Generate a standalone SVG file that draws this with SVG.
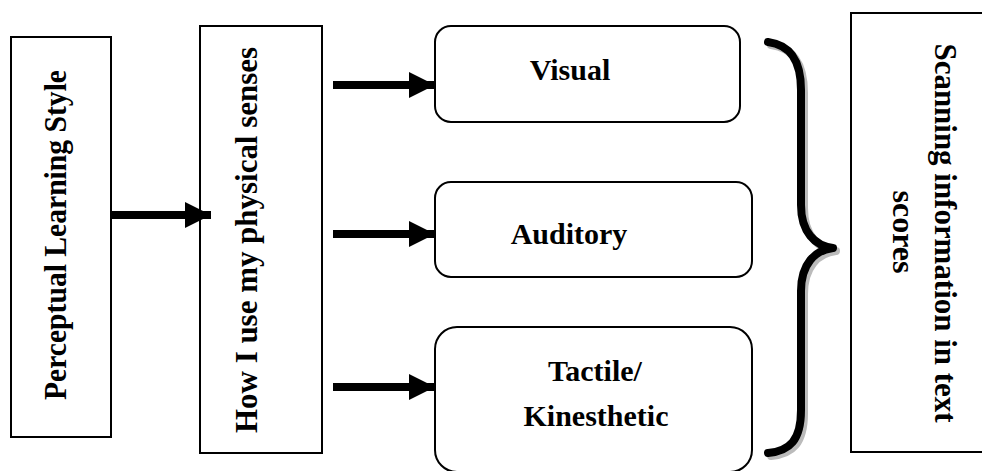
<svg xmlns="http://www.w3.org/2000/svg" width="982" height="471" viewBox="0 0 982 471">
<style>
.box{fill:#fff;stroke:#000;stroke-width:2}
.t{font-family:"Liberation Serif","Times New Roman",serif;font-weight:bold;font-size:30px;fill:#000;text-anchor:middle}
.v{font-size:32px}
.c{stroke:#000;stroke-width:8;fill:none}
.brace{fill:none;stroke-width:8;stroke-linecap:round;stroke-linejoin:round}
</style>
<defs>
<marker id="ah" markerUnits="userSpaceOnUse" markerWidth="26" markerHeight="26" refX="26" refY="13" orient="auto">
<path d="M0,0 L26,13 L0,26 Z" fill="#000"/>
</marker>
</defs>
<rect width="982" height="471" fill="#fff"/>
<g id="perceptual">
<rect class="box" x="11" y="37" width="100" height="400"/>
<text class="t v" transform="translate(66,235) rotate(-90)" textLength="330" lengthAdjust="spacingAndGlyphs">Perceptual Learning Style</text>
</g>
<g id="senses">
<rect class="box" x="200" y="26" width="122" height="427"/>
<text class="t v" transform="translate(257,240) rotate(-90)" textLength="386" lengthAdjust="spacingAndGlyphs">How I use my physical senses</text>
</g>
<g id="visual">
<rect class="box" x="435" y="26" width="305" height="96" rx="16"/>
<text class="t" x="570" y="80">Visual</text>
</g>
<g id="auditory">
<rect class="box" x="435" y="182" width="317" height="95" rx="16"/>
<text class="t" x="569" y="244">Auditory</text>
</g>
<g id="tactile">
<rect class="box" x="435" y="327" width="317" height="145" rx="22"/>
<text class="t" x="595" y="381">Tactile/</text>
<text class="t" x="596" y="426">Kinesthetic</text>
</g>
<g id="scanning">
<rect class="box" x="851" y="13" width="140" height="439"/>
<text class="t v" transform="translate(935,233) rotate(90)" textLength="379" lengthAdjust="spacingAndGlyphs">Scanning information in text</text>
<text class="t v" transform="translate(893,232) rotate(90)">scores</text>
</g>
<g id="connectors">
<line class="c" x1="111" y1="215" x2="211" y2="215" marker-end="url(#ah)"/>
<line class="c" x1="333" y1="85" x2="435" y2="85" marker-end="url(#ah)"/>
<line class="c" x1="333" y1="234" x2="435" y2="234" marker-end="url(#ah)"/>
<line class="c" x1="333" y1="387" x2="435" y2="387" marker-end="url(#ah)"/>
<path class="brace" stroke="#bbb" transform="translate(3,3)" d="M768,42 C790,45 801,60 801,90 L801,205 C801,232 815,246 833,248 C815,250 801,264 801,291 L801,410 C801,440 790,451 768,453"/>
<path class="brace" stroke="#000" d="M768,42 C790,45 801,60 801,90 L801,205 C801,232 815,246 833,248 C815,250 801,264 801,291 L801,410 C801,440 790,451 768,453"/>
</g>
</svg>
